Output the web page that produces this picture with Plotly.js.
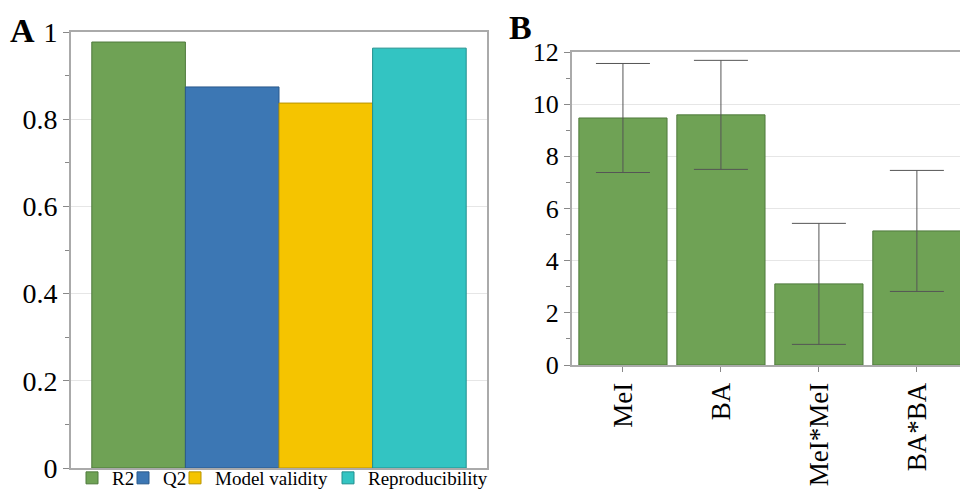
<!DOCTYPE html>
<html>
<head>
<meta charset="utf-8">
<script src="https://cdn.plot.ly/plotly-3.0.1.min.js"></script>
<style>
  html, body { margin: 0; padding: 0; background: #fff; }
  #chart { width: 960px; height: 491px; }
</style>
</head>
<body>
<div id="chart"></div>
<script>
// Panel A: model quality statistics
const metricNames = ['R2', 'Q2', 'Model validity', 'Reproducibility'];
const metricValues = [0.977, 0.874, 0.837, 0.963];
const metricColors = ['#6fa255', '#3c77b4', '#f5c400', '#33c4c2'];
const metricEdges = ['#4f7a3c', '#2b5a8c', '#b89300', '#22908f'];

// Panel B: scaled coefficients with confidence intervals
const termNames = ['MeI', 'BA', 'MeI*MeI', 'BA*BA'];
const termValues = [9.47, 9.59, 3.11, 5.14];
const termErrors = [2.09, 2.09, 2.32, 2.32];

const serif = '"Liberation Serif", "Times New Roman", Times, serif';
const axisGray = '#aaaaaa';
const gridGray = '#e6e6e6';

// left edge (px) of each legend entry along the bottom of panel A
const legendLeftPx = [72, 123, 175, 328];
const legendIds = ['legend', 'legend2', 'legend3', 'legend4'];

const traces = [];

metricNames.forEach(function (name, i) {
  traces.push({
    type: 'bar',
    name: name,
    x: [0],
    y: [metricValues[i]],
    xaxis: 'x',
    yaxis: 'y',
    legend: legendIds[i],
    marker: { color: metricColors[i], line: { color: metricEdges[i], width: 1 } },
    hoverinfo: 'name+y'
  });
});

traces.push({
  type: 'bar',
  x: termNames,
  y: termValues,
  xaxis: 'x2',
  yaxis: 'y2',
  showlegend: false,
  marker: { color: '#6fa255', line: { color: '#4f7a3c', width: 1 } },
  error_y: {
    type: 'data',
    array: termErrors,
    visible: true,
    color: '#555555',
    thickness: 1,
    width: 27
  }
});

const layout = {
  width: 960,
  height: 491,
  margin: { l: 0, r: 0, t: 0, b: 0, autoexpand: false },
  paper_bgcolor: '#ffffff',
  plot_bgcolor: '#ffffff',
  font: { family: serif, color: '#000000', size: 26 },
  barmode: 'group',
  bargap: 0.1,
  bargroupgap: 0,
  showlegend: true,
  xaxis: {
    domain: [71 / 960, 487 / 960],
    range: [-0.5, 0.5],
    showticklabels: false,
    ticks: '',
    showgrid: false,
    zeroline: false,
    showline: true,
    linecolor: axisGray,
    linewidth: 2,
    mirror: true,
    anchor: 'y',
    fixedrange: true
  },
  yaxis: {
    domain: [(491 - 468) / 491, (491 - 32) / 491],
    range: [0, 1],
    tickmode: 'array',
    tickvals: [0, 0.2, 0.4, 0.6, 0.8, 1],
    ticktext: ['0', '0.2', '0.4', '0.6', '0.8', '1'],
    ticks: 'outside',
    ticklen: 6,
    tickcolor: '#888',
    tickfont: { family: serif, size: 28 },
    showgrid: true,
    gridcolor: gridGray,
    zeroline: false,
    showline: true,
    linecolor: axisGray,
    linewidth: 2,
    mirror: true,
    minor: { dtick: 0.1, ticks: 'outside', ticklen: 4, tickcolor: '#888', showgrid: false },
    anchor: 'x'
  },
  xaxis2: {
    domain: [572 / 960, 1],
    range: [-0.52, 3.44],
    type: 'category',
    ticks: 'outside',
    ticklen: 5,
    tickcolor: '#888',
    tickangle: -90,
    tickfont: { family: serif, size: 27 },
    showgrid: false,
    zeroline: false,
    showline: true,
    linecolor: axisGray,
    linewidth: 2,
    mirror: true,
    anchor: 'y2'
  },
  yaxis2: {
    domain: [(491 - 365) / 491, (491 - 52) / 491],
    range: [0, 12],
    dtick: 2,
    ticks: 'outside',
    ticklen: 6,
    tickcolor: '#888',
    tickfont: { family: serif, size: 26 },
    showgrid: true,
    gridcolor: gridGray,
    zeroline: false,
    showline: true,
    linecolor: axisGray,
    linewidth: 2,
    mirror: true,
    minor: { dtick: 1, ticks: 'outside', ticklen: 4, tickcolor: '#888', showgrid: false },
    anchor: 'x2'
  },
  annotations: [
    {
      text: '<b>A</b>', xref: 'paper', yref: 'paper',
      x: 8 / 960, y: 1 - 10 / 491, xanchor: 'left', yanchor: 'top',
      showarrow: false, font: { family: serif, size: 34, color: '#000' }
    },
    {
      text: '<b>B</b>', xref: 'paper', yref: 'paper',
      x: 507 / 960, y: 1 - 7 / 491, xanchor: 'left', yanchor: 'top',
      showarrow: false, font: { family: serif, size: 34, color: '#000' }
    }
  ]
};

legendIds.forEach(function (id, i) {
  layout[id] = {
    orientation: 'h',
    x: legendLeftPx[i] / 960,
    xanchor: 'left',
    y: (491 - 478) / 491,
    yanchor: 'middle',
    font: { family: serif, size: 19, color: '#000' },
    itemwidth: 30,
    bgcolor: 'rgba(0,0,0,0)',
    borderwidth: 0
  };
});

Plotly.newPlot('chart', traces, layout, { displayModeBar: false, staticPlot: true });
</script>
</body>
</html>
